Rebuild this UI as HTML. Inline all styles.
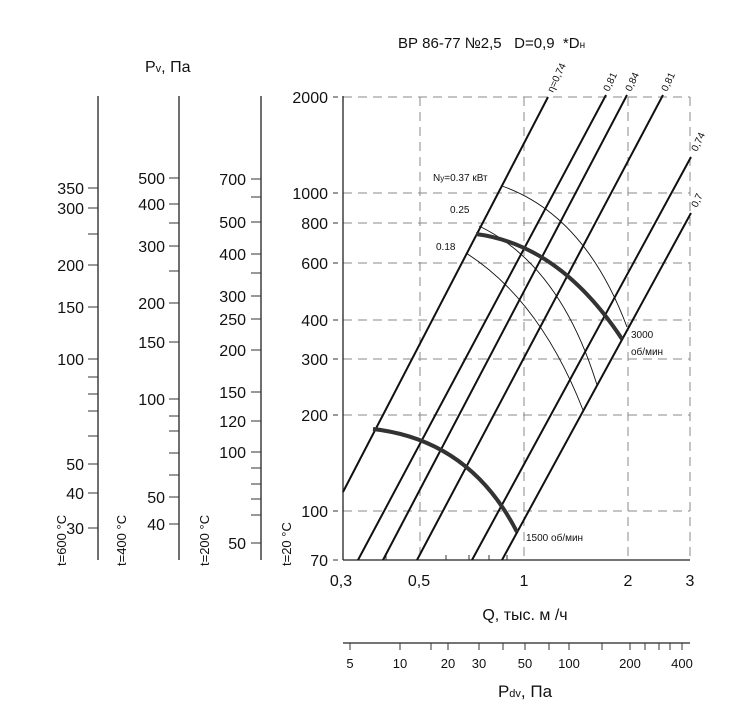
<!DOCTYPE html>
<html><head><meta charset="utf-8"><style>
body{margin:0;background:#fff}
svg{display:block;font-family:"Liberation Sans","DejaVu Sans",sans-serif}
</style></head><body>
<svg width="740" height="728" viewBox="0 0 740 728" xmlns="http://www.w3.org/2000/svg">
<rect width="740" height="728" fill="#fff"/>
<text x="398" y="48" font-size="15" fill="#111" style="white-space:pre">ВР 86-77 №2,5   D=0,9  *D<tspan font-size="10">н</tspan></text>
<text x="145" y="72" font-size="16" fill="#111">P<tspan font-size="11">v</tspan>, Па</text>
<g stroke="#888" stroke-width="1" stroke-dasharray="9,6" fill="none">
<path d="M343 97H690M343 193H690M343 223H690M343 263H690M343 320H690M343 359H690M343 415H690M343 511H690"/>
<path d="M420 97V560M524 97V560M628 97V560M690 97V560"/>
</g>
<g stroke="#222" stroke-width="1.3" fill="none">
<path d="M98 96V560M179 96V560M261 96V560M343 96V560"/>
<path d="M343 560H690"/>
<path d="M343 643H690"/>
</g>
<g stroke="#333" stroke-width="1" fill="none">
<path d="M88 188H98M88 208H98M88 234H98M88 265H98M88 307H98M88 359H98M88 377H98M88 394H98M88 411H98M88 436H98M88 464H98M88 493H98M88 528H98"/>
<path d="M169 178H179M169 204H179M169 223H179M169 246H179M169 271H179M169 303H179M169 342H179M169 399H179M169 416H179M169 431H179M169 453H179M169 475H179M169 497H179M169 524H179"/>
<path d="M251 179H261M251 197H261M251 222H261M251 254H261M251 273H261M251 296H261M251 319H261M251 350H261M251 392H261M251 421H261M251 452H261M251 468H261M251 484H261M251 499H261M251 515H261M251 543H261"/>
<path d="M333 97H338M333 193H338M333 223H338M333 263H338M333 320H338M333 359H338M333 415H338M333 511H338M333 560H338"/>
<path d="M386 560V555M446 560V555M469 560V555M489 560V555M507 560V555"/>
<path d="M350 643V650M400 643V650M431 643V650M448 643V650M479 643V650M503 643V650M525 643V650M549 643V650M569 643V650M602 643V650M630 643V650M645 643V650M659 643V650M670 643V650M682 643V650"/>
</g>
<g font-size="16" fill="#111" text-anchor="end">
<text x="84" y="194">350</text><text x="84" y="214">300</text><text x="84" y="271">200</text><text x="84" y="313">150</text><text x="84" y="365">100</text><text x="84" y="470">50</text><text x="84" y="499">40</text><text x="84" y="534">30</text>
<text x="165" y="184">500</text><text x="165" y="210">400</text><text x="165" y="252">300</text><text x="165" y="309">200</text><text x="165" y="348">150</text><text x="165" y="405">100</text><text x="165" y="503">50</text><text x="165" y="530">40</text>
<text x="246" y="185">700</text><text x="246" y="228">500</text><text x="246" y="260">400</text><text x="246" y="302">300</text><text x="246" y="325">250</text><text x="246" y="356">200</text><text x="246" y="398">150</text><text x="246" y="427">120</text><text x="246" y="458">100</text><text x="246" y="549">50</text>
<text x="328" y="103">2000</text><text x="328" y="199">1000</text><text x="328" y="229">800</text><text x="328" y="269">600</text><text x="328" y="326">400</text><text x="328" y="365">300</text><text x="328" y="421">200</text><text x="328" y="517">100</text><text x="328" y="566">70</text>
</g>
<g font-size="13" fill="#111">
<text transform="translate(66,566) rotate(-90)">t=600 °C</text>
<text transform="translate(126,566) rotate(-90)">t=400 °C</text>
<text transform="translate(209,566) rotate(-90)">t=200 °C</text>
<text transform="translate(291,566) rotate(-90)">t=20 °C</text>
</g>
<g font-size="16" fill="#111" text-anchor="middle">
<text x="341" y="586">0,3</text><text x="419" y="586">0,5</text><text x="524" y="586">1</text><text x="628" y="586">2</text><text x="690" y="586">3</text>
<text x="525" y="620">Q, тыс. м /ч</text>
</g>
<g font-size="13" fill="#111" text-anchor="middle">
<text x="350" y="668">5</text><text x="400" y="668">10</text><text x="448" y="668">20</text><text x="479" y="668">30</text><text x="525" y="668">50</text><text x="569" y="668">100</text><text x="630" y="668">200</text><text x="682" y="668">400</text>
</g>
<text x="525" y="697" font-size="17" fill="#111" text-anchor="middle">P<tspan font-size="11">dv</tspan>, Па</text>
<g stroke="#111" stroke-width="2" fill="none">
<path d="M343 492L548 97"/>
<path d="M358 560L606 95"/>
<path d="M383 560L627 95"/>
<path d="M417 560L663 95"/>
<path d="M472 560L691 157"/>
<path d="M502 560L691 213"/>
</g>
<g font-size="10" fill="#111">
<text transform="translate(553,93) rotate(-65)">η=0,74</text>
<text transform="translate(609,92) rotate(-65)">0,81</text>
<text transform="translate(631,92) rotate(-65)">0,84</text>
<text transform="translate(667,92) rotate(-65)">0,81</text>
<text transform="translate(697,152) rotate(-65)">0,74</text>
<text transform="translate(697,208) rotate(-65)">0,7</text>
</g>
<g stroke="#111" stroke-width="0.9" fill="none">
<path d="M502 186Q585 215 627 327"/>
<path d="M479 226Q560 265 597 385"/>
<path d="M466 253Q540 300 583 410"/>
</g>
<g stroke="#333" stroke-width="4" fill="none">
<path d="M476 234Q560 245 622 339"/>
<path d="M373 429Q470 440 517 532"/>
</g>
<g font-size="10" fill="#111">
<text x="433" y="181">N<tspan font-size="8">y</tspan>=0.37 кВт</text>
<text x="450" y="213">0.25</text>
<text x="436" y="250">0.18</text>
<text x="631" y="338">3000</text>
<text x="631" y="355">об/мин</text>
<text x="526" y="541">1500 об/мин</text>
</g>
</svg>
</body></html>
